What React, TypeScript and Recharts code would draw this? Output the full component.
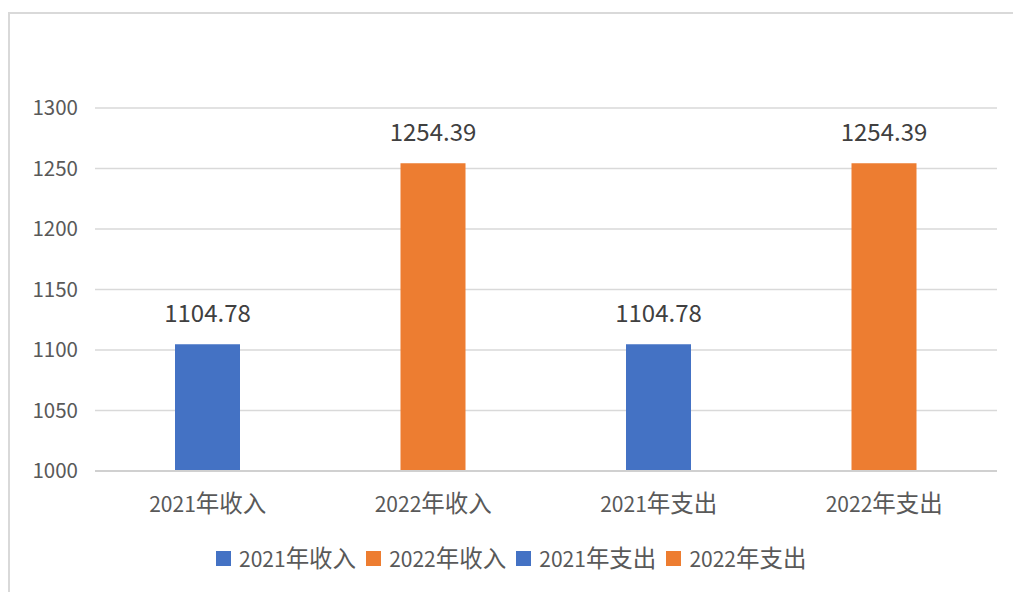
import React from 'react';
import { BarChart, Bar, XAxis, YAxis, CartesianGrid, Legend, LabelList, Cell } from 'recharts';

const categories = ['2021年收入', '2022年收入', '2021年支出', '2022年支出'];
const values = [1104.78, 1254.39, 1104.78, 1254.39];
const colors = ['#4472C4', '#ED7D31', '#4472C4', '#ED7D31'];
const yTicks = [1000, 1050, 1100, 1150, 1200, 1250, 1300];

const data = categories.map((name, i) => ({ name, value: values[i] }));

const FONT = "'Noto Sans CJK SC', 'Noto Sans', sans-serif";
const DIGIT_SIZE = 21;
const CJK_SIZE = 23.5;

const splitLabel = (s: string) => {
  const m = s.match(/^(\d+)(.*)$/);
  return m ? [m[1], m[2]] : [s, ''];
};

const XTick = (props: any) => {
  const { x, y, payload } = props;
  const [num, rest] = splitLabel(String(payload.value));
  return (
    <text x={x} y={y} dy={41} textAnchor="middle" fill="#595959" fontFamily={FONT}>
      <tspan fontSize={DIGIT_SIZE}>{num}</tspan>
      <tspan fontSize={CJK_SIZE}>{rest}</tspan>
    </text>
  );
};

const renderLegend = () => (
  <div style={{ display: 'flex', justifyContent: 'flex-start', alignItems: 'center', paddingLeft: 181, fontFamily: FONT, color: '#595959', height: 30, lineHeight: '30px' }}>
    {categories.map((c, i) => {
      const [num, rest] = splitLabel(c);
      return (
        <div key={c} style={{ display: 'flex', alignItems: 'center', marginRight: i < categories.length - 1 ? 10 : 0 }}>
          <span style={{ display: 'inline-block', width: 15, height: 15, background: colors[i], marginRight: 8 }} />
          <span>
            <span style={{ fontSize: DIGIT_SIZE }}>{num}</span>
            <span style={{ fontSize: CJK_SIZE }}>{rest}</span>
          </span>
        </div>
      );
    })}
  </div>
);

export default function App() {
  return (
    <div style={{ position: 'fixed', left: 8, top: 12, width: 1020, height: 600, borderTop: '2px solid #d9d9d9', borderLeft: '2px solid #d9d9d9', boxSizing: 'border-box', overflow: 'hidden', background: '#fff' }}>
      <BarChart width={1003} height={570} data={data} margin={{ top: 94, right: 16, left: 25, bottom: 11 }}>
        <CartesianGrid vertical={false} stroke="#d9d9d9" strokeWidth={1.5} />
        <XAxis
          dataKey="name"
          height={72}
          tickLine={false}
          tickSize={0}
          tickMargin={0}
          axisLine={{ stroke: '#d0d0d0', strokeWidth: 2 }}
          tick={<XTick />}
          interval={0}
        />
        <YAxis
          domain={[1000, 1300]}
          ticks={yTicks}
          width={60}
          tickLine={false}
          axisLine={false}
          tickSize={1}
          tickMargin={16}
          tick={{ fill: '#595959', fontSize: 20.5, fontFamily: FONT }}
        />
        <Legend verticalAlign="bottom" height={30} content={renderLegend} />
        <Bar dataKey="value" barSize={65} isAnimationActive={false}>
          {data.map((d, i) => (
            <Cell key={d.name} fill={colors[i]} />
          ))}
          <LabelList dataKey="value" position="top" offset={22} fill="#404040" fontSize={24} fontFamily={FONT} />
        </Bar>
      </BarChart>
    </div>
  );
}
